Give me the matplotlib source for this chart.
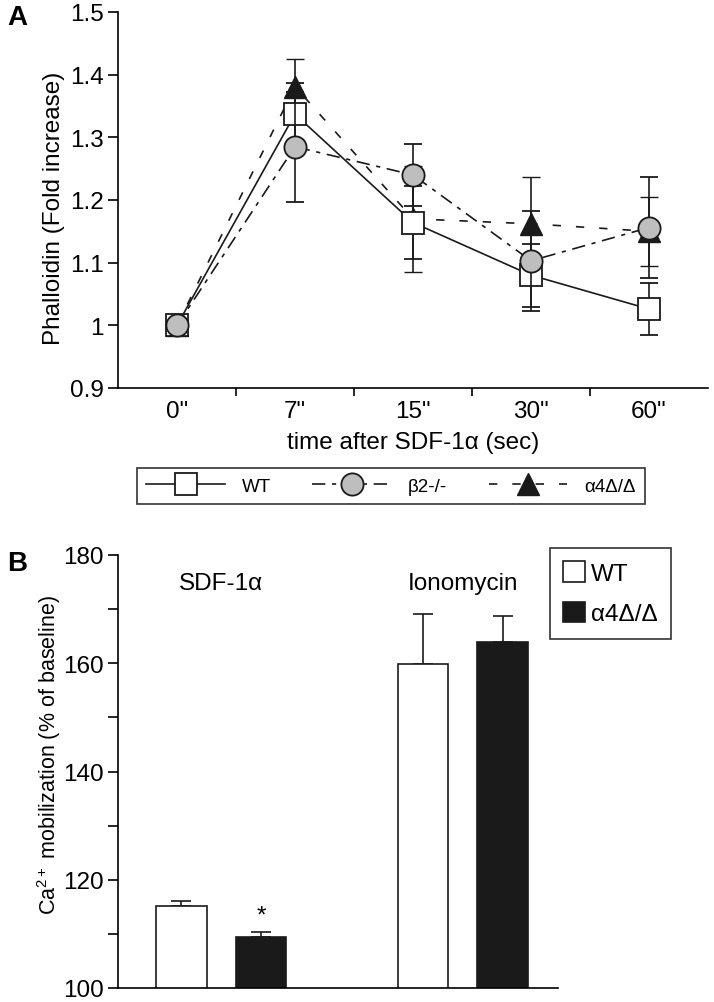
import matplotlib
matplotlib.use("Agg")
import matplotlib.pyplot as plt
from matplotlib.lines import Line2D
from matplotlib.patches import Patch
import numpy as np

plt.rcParams['font.family'] = ['Liberation Sans', 'DejaVu Sans']
plt.rcParams['mathtext.fontset'] = 'custom'
plt.rcParams['mathtext.rm'] = 'Liberation Sans'
plt.rcParams['mathtext.it'] = 'Liberation Sans:italic'

# ---------------- Data: panel A ----------------
time_labels = ['0"', '7"', '15"', '30"', '60"']
wt_vals = [1.0, 1.337, 1.164, 1.08, 1.026]
wt_err = [0.0, 0.05, 0.058, 0.05, 0.041]
b2_vals = [1.0, 1.285, 1.24, 1.103, 1.156]
b2_err = [0.0, 0.088, 0.05, 0.08, 0.08]
a4_vals = [1.0, 1.381, 1.17, 1.162, 1.15]
a4_err = [0.0, 0.044, 0.085, 0.074, 0.055]
series_names = ['WT', 'β2-/-', 'α4Δ/Δ']

# ---------------- Data: panel B ----------------
groups = ['SDF-1α', 'Ionomycin']
b_wt = [115.2, 159.8]
b_wt_err = [0.9, 9.3]
b_a4 = [109.5, 164.0]
b_a4_err = [0.8, 4.8]
b_names = ['WT', 'α4Δ/Δ']

W, H = 714, 1003
fig = plt.figure(figsize=(W / 100, H / 100), dpi=100)

def fx(px):
    return px / W

def fy(py):
    return 1 - py / H

FS = 17.5
FSL = 13.5
dark = '#1a1a1a'
gray = '#bebebe'

# ---------------- Panel A ----------------
axA = fig.add_axes([fx(118), fy(389), fx(708) - fx(118), fy(13) - fy(389)])
x = np.arange(len(time_labels))
ms = 16
ebkw = dict(ecolor=dark, elinewidth=1.2, capsize=6.5, capthick=1.2)

axA.errorbar(x, a4_vals, yerr=a4_err, color=dark, lw=1.2, ls=(0, (5, 9)),
             marker='^', ms=ms, mfc=dark, mec=dark, mew=1.0, zorder=2, **ebkw)
axA.errorbar(x, wt_vals, yerr=wt_err, color=dark, lw=1.2, ls='-',
             marker='s', ms=ms, mfc='white', mec=dark, mew=1.3, zorder=3, **ebkw)
axA.errorbar(x, b2_vals, yerr=b2_err, color=dark, lw=1.2, ls=(0, (8, 4, 2.5, 4)),
             marker='o', ms=ms, mfc=gray, mec=dark, mew=1.3, zorder=4, **ebkw)

axA.set_xlim(-0.5, 4.5)
axA.set_ylim(0.9, 1.5)
axA.set_yticks([0.9, 1.0, 1.1, 1.2, 1.3, 1.4, 1.5])
axA.set_yticklabels(['0.9', '1', '1.1', '1.2', '1.3', '1.4', '1.5'])
axA.set_xticks(x)
axA.set_xticklabels(time_labels)
axA.set_xticks(np.arange(0.5, 4.0, 1.0), minor=True)
axA.tick_params(axis='x', which='major', length=0, labelsize=FS, pad=9)
axA.tick_params(axis='x', which='minor', length=6, width=1.2, direction='out')
axA.tick_params(axis='y', which='major', length=7, width=1.2, direction='out', labelsize=FS, pad=3)
for s in ['top', 'right']:
    axA.spines[s].set_visible(False)
for s in ['left', 'bottom']:
    axA.spines[s].set_linewidth(1.2)
axA.set_xlabel('time after SDF-1α (sec)', fontsize=FS, labelpad=6)
axA.set_ylabel('Phalloidin (Fold increase)', fontsize=FS)
axA.yaxis.set_label_coords(-0.09, 0.48)

handlesA = [
    Line2D([], [], color=dark, lw=1.2, ls='-', marker='s', ms=ms, mfc='white', mec=dark, mew=1.3),
    Line2D([], [], color=dark, lw=1.2, ls=(0, (8, 4, 2.5, 4)), marker='o', ms=ms, mfc=gray, mec=dark, mew=1.3),
    Line2D([], [], color=dark, lw=1.2, ls=(0, (5, 9)), marker='^', ms=ms, mfc=dark, mec=dark),
]
legA = fig.legend(handlesA, series_names, loc='center', ncol=3,
                  bbox_to_anchor=(fx(391), fy(487)), fontsize=FSL, frameon=True,
                  fancybox=False, edgecolor='black', handlelength=4.2,
                  columnspacing=2.2, handletextpad=0.9, borderpad=0.5)
legA.get_frame().set_linewidth(1.2)

# ---------------- Panel B ----------------
axB = fig.add_axes([fx(118), fy(989), fx(558) - fx(118), fy(556) - fy(989)])
gx = np.arange(len(groups))
off = 0.165
bw = 0.21
axB.bar(gx - off, b_wt, width=bw, bottom=0, color='white', edgecolor=dark, lw=1.2, zorder=2)
axB.bar(gx + off, b_a4, width=bw, bottom=0, color=dark, edgecolor=dark, lw=1.2, zorder=2)
axB.errorbar(gx - off, b_wt, yerr=[np.zeros(len(b_wt)), b_wt_err], fmt='none',
             ecolor=dark, elinewidth=1.2, capsize=7, capthick=1.2, zorder=1)
axB.errorbar(gx + off, b_a4, yerr=[np.zeros(len(b_a4)), b_a4_err], fmt='none',
             ecolor=dark, elinewidth=1.2, capsize=7, capthick=1.2, zorder=1)
axB.set_xlim(-0.426, 1.393)
axB.set_ylim(100, 180)
axB.set_yticks([100, 120, 140, 160, 180])
axB.set_yticks([110, 130, 150, 170], minor=True)
axB.set_xticks([])
axB.tick_params(axis='y', which='both', length=7, width=1.2, direction='out', labelsize=FS, pad=3)
for s in ['top', 'right']:
    axB.spines[s].set_visible(False)
for s in ['left', 'bottom']:
    axB.spines[s].set_linewidth(1.2)
axB.set_ylabel('Ca$^{2+}$ mobilization (% of baseline)', fontsize=15.5)
axB.yaxis.set_label_coords(-0.125, 0.54)
for i, g in enumerate(groups):
    axB.text(gx[i], 174.8, g, ha='center', va='center', fontsize=FS)
axB.text(gx[0] + off, b_a4[0] + b_a4_err[0] + 3.0, '*', ha='center', va='center', fontsize=FS)

handlesB = [Patch(facecolor='white', edgecolor=dark, lw=1.2),
            Patch(facecolor=dark, edgecolor=dark, lw=1.2)]
legB = fig.legend(handlesB, b_names, loc='upper left', bbox_to_anchor=(fx(550), fy(549)),
                  fontsize=FS, frameon=True, fancybox=False, edgecolor='black',
                  handlelength=0.9, handleheight=0.9, handletextpad=0.25,
                  labelspacing=0.7, borderpad=0.55, borderaxespad=0)
legB.get_frame().set_linewidth(1.2)

fig.text(fx(7), fy(18), 'A', fontsize=20, fontweight='bold', ha='left', va='center')
fig.text(fx(7), fy(564), 'B', fontsize=20, fontweight='bold', ha='left', va='center')

fig.savefig('out.png', dpi=100)
